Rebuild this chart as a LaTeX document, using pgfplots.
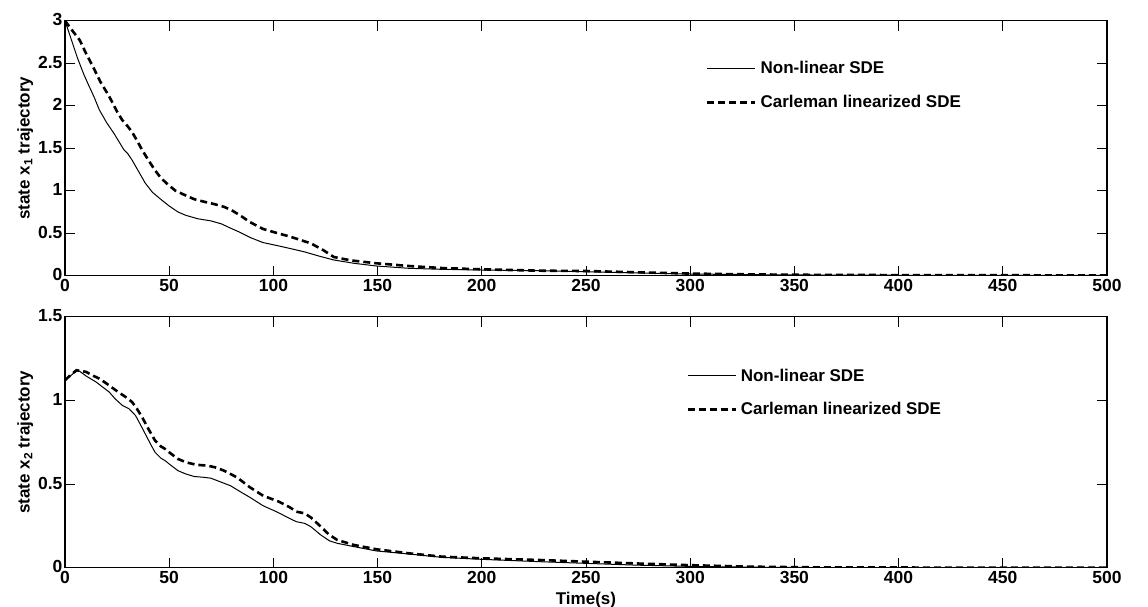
\documentclass[border=0pt]{standalone}
\usepackage{fontspec}
\setmainfont{Liberation Sans}
\usepackage{pgfplots}
\pgfplotsset{compat=1.18}
\newcommand\fs{\fontsize{17.5}{20}\selectfont\bfseries}
\newcommand\fl{\fontsize{17}{20}\selectfont\bfseries}
\pgfplotsset{
  base/.style={
    scale only axis, width=1042pt,
    xmin=0, xmax=500, ymin=0,
    xtick={0,50,...,500},
    tick align=inside, tick pos=both,
    major tick length=10pt,
    axis line style={line width=1.3pt},
    every tick/.style={black, line width=0.8pt},
    tick label style={font=\fs},
    /pgf/number format/assume math mode=true,
    scaled y ticks=false,
    label style={font=\fl},
    legend style={draw=none, fill=none, anchor=west, inner sep=0pt, row sep=16pt,
      font=\fl, nodes={anchor=west, inner xsep=4pt}},
    legend cell align=left,
    legend image code/.code={\draw[##1] (0pt,0pt) -- (48pt,0pt);},
    xticklabel style={yshift=-1pt, inner ysep=2pt},
    yticklabel style={xshift=1pt, yshift=1pt},
  },
  nl/.style={black, line width=1pt},
  cl/.style={black, line width=2.6pt, dash pattern=on 7pt off 4pt},
}
\begin{document}
\begin{tikzpicture}
\begin{axis}[base, name=top, at={(0,0)}, anchor=north west,
  height=255pt, ymax=3, ytick={0,0.5,...,3},
  ylabel={state x\textsubscript{1} trajectory},
  ylabel style={yshift=-2pt},
  legend style={at={(0.615,0.746)}}]
\addplot[nl] coordinates {
(0,3.00) (3,2.78) (6,2.56) (9,2.37) (11,2.26) (14,2.10) (16.5,1.95) (20,1.80)
(23.6,1.67) (28.3,1.48) (30,1.44) (32.2,1.36) (35,1.24) (38.5,1.09) (42,0.98)
(46.4,0.89) (50,0.82) (54.2,0.75) (58,0.71) (63.7,0.67) (70,0.645) (75,0.61)
(79.4,0.56) (84,0.51) (88.8,0.45) (95,0.39) (102.6,0.35) (108,0.32) (115,0.28)
(122,0.23) (129,0.185) (138.6,0.146) (149.5,0.114) (165,0.087) (180.8,0.075)
(200,0.067) (227.7,0.059) (250,0.047) (270,0.035) (300,0.02) (330,0.012)
(360,0.008) (400,0.005) (450,0.004) (500,0.003)};
\addlegendentry{Non-linear SDE}
\addplot[cl] coordinates {
(0,3.0) (3,2.90) (7.1,2.77) (10,2.62) (13.4,2.46) (17,2.28) (21.2,2.11) (25,1.93)
(27.5,1.83) (30,1.76) (32.2,1.69) (35,1.57) (37,1.48) (40,1.36) (43.2,1.24)
(46,1.15) (49.5,1.07) (53,1.00) (57.4,0.95) (62,0.90) (66.8,0.87) (72,0.84)
(76.3,0.81) (80,0.77) (84,0.71) (88.8,0.63) (95,0.55) (102,0.50) (108,0.46)
(113,0.42) (118,0.38) (124,0.30) (129,0.22) (134,0.195) (138.6,0.176)
(149.5,0.146) (165,0.114) (180.8,0.09) (200,0.075) (227.7,0.059) (250,0.055)
(275,0.04) (300,0.025) (330,0.015) (360,0.01) (400,0.007) (450,0.005) (500,0.004)};
\addlegendentry{Carleman linearized SDE}
\end{axis}
\begin{axis}[base, at={(0,-296pt)}, anchor=north west,
  height=251pt, ymax=1.5, ytick={0,0.5,1,1.5},
  ylabel={state x\textsubscript{2} trajectory},
  ylabel style={yshift=-2pt},
  xlabel={Time(s)},
  xlabel style={at={(axis description cs:0.5,0)}, anchor=north, yshift=-21pt},
  legend style={at={(0.596,0.698)}}]
\addplot[nl] coordinates {
(0,1.12) (2,1.14) (3.9,1.16) (6.3,1.18) (8,1.165) (10.2,1.145) (14.9,1.11)
(18,1.08) (21.2,1.05) (24,1.01) (27.5,0.97) (30.7,0.95) (33.8,0.91) (36,0.86)
(38.5,0.80) (41,0.74) (43.2,0.69) (46,0.655) (48,0.64) (51,0.61) (54.2,0.58)
(58,0.56) (62,0.545) (66.8,0.54) (70,0.535) (73.1,0.52) (79.4,0.49) (84,0.455)
(88.8,0.42) (95.1,0.37) (101.4,0.335) (107.7,0.295) (111,0.275) (115,0.265)
(118,0.245) (122.8,0.195) (127,0.16) (130.6,0.146) (138.6,0.126) (149.5,0.10)
(165,0.082) (180.8,0.062) (200,0.05) (227.7,0.036) (250,0.026) (275,0.015)
(300,0.008) (330,0.003) (360,0.001) (400,0.0) (500,0.0)};
\addlegendentry{Non-linear SDE}
\addplot[cl] coordinates {
(0,1.12) (2.5,1.15) (5.5,1.18) (8,1.175) (10.2,1.17) (13,1.15) (16.5,1.13)
(20,1.10) (24.4,1.06) (29.1,1.02) (32.2,0.99) (34.5,0.95) (37,0.90) (40,0.83)
(43.2,0.76) (46,0.725) (48,0.71) (51,0.68) (54.2,0.65) (58,0.63) (63,0.615)
(68.4,0.61) (72,0.60) (76.3,0.58) (82.5,0.54) (88.8,0.48) (95.1,0.43)
(102.6,0.395) (108,0.36) (111,0.335) (115,0.325) (118,0.30) (122.8,0.245)
(126.5,0.20) (130.6,0.166) (138.6,0.136) (149.5,0.11) (165,0.086) (180.8,0.066)
(200,0.056) (227.7,0.046) (250,0.036) (275,0.025) (300,0.015) (330,0.006)
(360,0.002) (400,0.001) (500,0.0)};
\addlegendentry{Carleman linearized SDE}
\end{axis}
\pgfresetboundingbox
\path[use as bounding box] (-65pt,20.7pt) rectangle (1083pt,-586.3pt);
\end{tikzpicture}
\end{document}
